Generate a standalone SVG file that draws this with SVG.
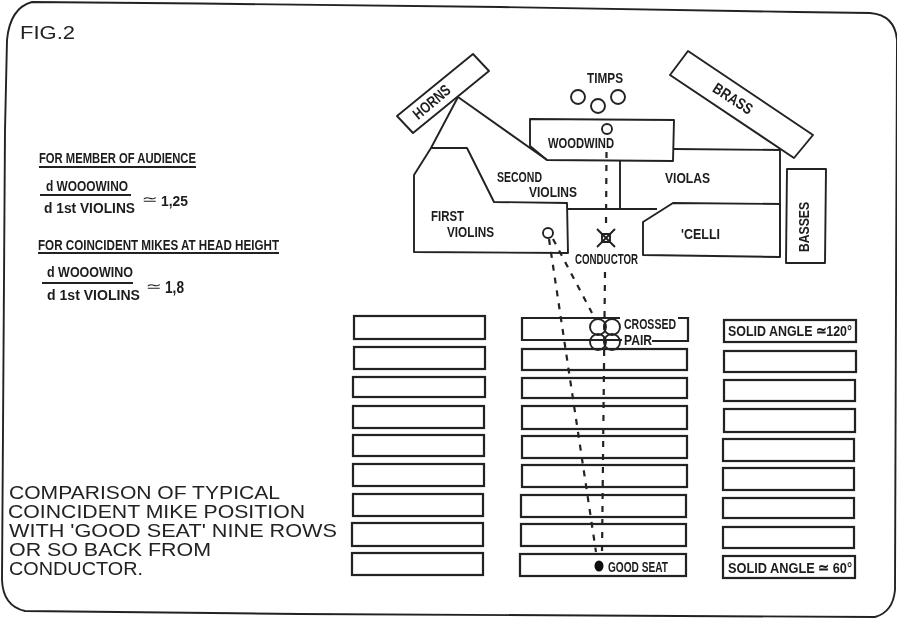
<svg xmlns="http://www.w3.org/2000/svg" width="897" height="618" viewBox="0 0 897 618">
<style>
.l{fill:none;stroke:#222;stroke-width:1.9;stroke-linejoin:round}
.s{fill:none;stroke:#222;stroke-width:2.2}
.d{fill:none;stroke:#222;stroke-width:2.2;stroke-dasharray:6 7}
.t{font-family:"Liberation Sans",Arial,sans-serif;font-weight:700;font-size:16px;fill:#1c1c1c}
.m{font-size:15.5px}
.n{font-size:14px}
.b{font-family:"Liberation Sans",Arial,sans-serif;font-size:18px;fill:#222}
.a{font-family:"DejaVu Sans",sans-serif;font-size:14px;fill:#1c1c1c}
</style>
<defs><filter id="f" x="-2%" y="-2%" width="104%" height="104%"><feGaussianBlur stdDeviation="0.45"/></filter></defs>
<rect width="897" height="618" fill="#fff"/>
<g filter="url(#f)">
<path id="frame" class="l" d="M32,2 L200,3.5 L500,7 L797,12 L870,13 Q895,15 897,40 L896,300 L895,590 Q893,612 875,617 L300,614 L25,611 Q3,606 2,580 L5,130 L7,40 Q10,8 32,2Z"/>
<text id="fig" class="b" x="20" y="39" style="font-size:19px" textLength="55" lengthAdjust="spacingAndGlyphs">FIG.2</text>

<g id="formulas">
<text class="t m" x="39" y="163" textLength="157" lengthAdjust="spacingAndGlyphs">FOR MEMBER OF AUDIENCE</text>
<path class="l" d="M39,167H196"/>
<text class="t n" x="46" y="191" textLength="82" lengthAdjust="spacingAndGlyphs">d WOOOWINO</text>
<path class="l" d="M40,195H131"/>
<text class="t n" x="44" y="213" textLength="91" lengthAdjust="spacingAndGlyphs">d 1st VIOLINS</text>
<text class="a" x="142" y="204" textLength="16" lengthAdjust="spacingAndGlyphs">≃</text>
<text class="t n" x="161" y="206" textLength="27" lengthAdjust="spacingAndGlyphs">1,25</text>
<text class="t m" x="38" y="250" textLength="241" lengthAdjust="spacingAndGlyphs">FOR COINCIDENT MIKES AT HEAD HEIGHT</text>
<path class="l" d="M38,253H279"/>
<text class="t n" x="47" y="277" textLength="86" lengthAdjust="spacingAndGlyphs">d WOOOWINO</text>
<path class="l" d="M42,283H133"/>
<text class="t n" x="47" y="300" textLength="93" lengthAdjust="spacingAndGlyphs">d 1st VIOLINS</text>
<text class="a" x="146" y="291" textLength="16" lengthAdjust="spacingAndGlyphs">≃</text>
<text class="t" x="165" y="293" textLength="19" lengthAdjust="spacingAndGlyphs">1,8</text>
</g>

<g id="caption">
<text class="b" x="9" y="499" textLength="271" lengthAdjust="spacingAndGlyphs">COMPARISON OF TYPICAL</text>
<text class="b" x="8" y="518" textLength="297" lengthAdjust="spacingAndGlyphs">COINCIDENT MIKE POSITION</text>
<text class="b" x="9" y="537" textLength="328" lengthAdjust="spacingAndGlyphs">WITH 'GOOD SEAT' NINE ROWS</text>
<text class="b" x="9" y="556" textLength="202" lengthAdjust="spacingAndGlyphs">OR SO BACK FROM</text>
<text class="b" x="9" y="575" textLength="134" lengthAdjust="spacingAndGlyphs">CONDUCTOR.</text>
</g>

<g id="horns"><polygon class="l" points="473,54 489,71 413,133 397,116"/><text class="t m" transform="translate(435,106) rotate(-40)" text-anchor="middle" textLength="44" lengthAdjust="spacingAndGlyphs">HORNS</text></g>
<g id="brass"><polygon class="l" points="688,51 813,135 794,158 670,75"/><text class="t m" transform="translate(730,103) rotate(33)" text-anchor="middle" textLength="44" lengthAdjust="spacingAndGlyphs">BRASS</text></g>
<g id="timps"><text class="t m" x="587" y="83" textLength="36" lengthAdjust="spacingAndGlyphs">TIMPS</text><circle class="l" cx="578" cy="97" r="7"/><circle class="l" cx="598" cy="106" r="7"/><circle class="l" cx="618" cy="97" r="7"/></g>
<g id="second-violins"><path class="l" d="M458,97L547,160M620,161V209M568,209H657"/><text class="t m" x="497" y="182" textLength="45" lengthAdjust="spacingAndGlyphs">SECOND</text><text class="t m" x="529" y="197" textLength="48" lengthAdjust="spacingAndGlyphs">VIOLINS</text></g>
<g id="woodwind"><polygon class="l" points="530,119 674,120 673,161 547,160 530,146"/><text class="t m" x="548" y="148" textLength="66" lengthAdjust="spacingAndGlyphs">WOODWIND</text><circle class="l" cx="607" cy="129" r="5"/></g>
<g id="violas"><path class="l" d="M674,149L780,150V257"/><text class="t m" x="665" y="183" textLength="45" lengthAdjust="spacingAndGlyphs">VIOLAS</text></g>
<g id="first-violins"><polygon class="l" points="458,97 431,148 414,175 414,252 568,253 567,203 494,202 467,148 431,148"/><text class="t m" x="431" y="221" textLength="33" lengthAdjust="spacingAndGlyphs">FIRST</text><text class="t m" x="447" y="237" textLength="47" lengthAdjust="spacingAndGlyphs">VIOLINS</text><circle class="l" cx="548" cy="233" r="5"/></g>
<g id="celli"><polygon class="l" points="643,222 673,203 780,204 780,257 643,255"/><text class="t m" x="681" y="239" textLength="39" lengthAdjust="spacingAndGlyphs">'CELLI</text></g>
<g id="basses"><polygon class="l" points="787,169 826,169 825,263 786,263"/><text class="t m" transform="translate(809,252) rotate(-90)" textLength="50" lengthAdjust="spacingAndGlyphs">BASSES</text></g>
<g id="conductor"><path class="l" d="M597,229L615,247M615,229L597,247"/><rect class="l" x="602" y="234" width="8" height="8"/><text class="t m" x="575" y="264" textLength="63" lengthAdjust="spacingAndGlyphs">CONDUCTOR</text></g>

<g id="seats-left" class="s">
<rect x="354" y="316" width="131" height="23"/><rect x="354" y="347" width="131" height="22"/><rect x="353" y="377" width="132" height="20"/><rect x="353" y="406" width="131" height="22"/><rect x="353" y="435" width="131" height="21"/><rect x="353" y="464" width="131" height="22"/><rect x="353" y="494" width="130" height="22"/><rect x="352" y="523" width="131" height="23"/><rect x="352" y="553" width="131" height="22"/>
</g>
<g id="seats-middle" class="s">
<path d="M620,318H522V340H622M652,341H688V318H678"/><rect x="522" y="349" width="165" height="21"/><rect x="522" y="378" width="165" height="20"/><rect x="522" y="406" width="165" height="23"/><rect x="522" y="436" width="165" height="22"/><rect x="522" y="465" width="165" height="22"/><rect x="521" y="495" width="165" height="22"/><rect x="521" y="524" width="165" height="22"/><rect x="520" y="554" width="166" height="22"/>
</g>
<g id="seats-right" class="s">
<rect x="724" y="320" width="132" height="22"/><rect x="724" y="351" width="132" height="21"/><rect x="724" y="380" width="131" height="21"/><rect x="724" y="409" width="131" height="23"/><rect x="723" y="439" width="131" height="22"/><rect x="723" y="468" width="131" height="22"/><rect x="723" y="498" width="131" height="20"/><rect x="723" y="527" width="131" height="21"/><rect x="723" y="556" width="132" height="22"/>
</g>
<g id="crossed-pair"><circle class="l" cx="598" cy="327" r="8"/><circle class="l" cx="612" cy="327" r="8"/><circle class="l" cx="598" cy="342" r="8"/><circle class="l" cx="612" cy="342" r="8"/><text class="t m" x="624" y="329" textLength="52" lengthAdjust="spacingAndGlyphs">CROSSED</text><text class="t m" x="624" y="345" textLength="28" lengthAdjust="spacingAndGlyphs">PAIR</text></g>
<g id="good-seat"><ellipse cx="599" cy="566" rx="4.5" ry="5.5" fill="#111"/><text class="t m" x="608" y="572" textLength="60" lengthAdjust="spacingAndGlyphs">GOOD SEAT</text></g>
<g id="angle-120"><text class="t m" x="728" y="336" textLength="124" lengthAdjust="spacingAndGlyphs">SOLID ANGLE ≃120°</text></g>
<g id="angle-60"><text class="t m" x="728" y="573" textLength="124" lengthAdjust="spacingAndGlyphs">SOLID ANGLE ≃ 60°</text></g>

<g id="connectors">
<path class="d" d="M606.5,152L606,227"/>
<path class="d" d="M605,272L602,553"/>
<path class="d" d="M549,239L596,552"/>
<path class="d" d="M553,239L592,313"/>
</g>
</g>
</svg>
